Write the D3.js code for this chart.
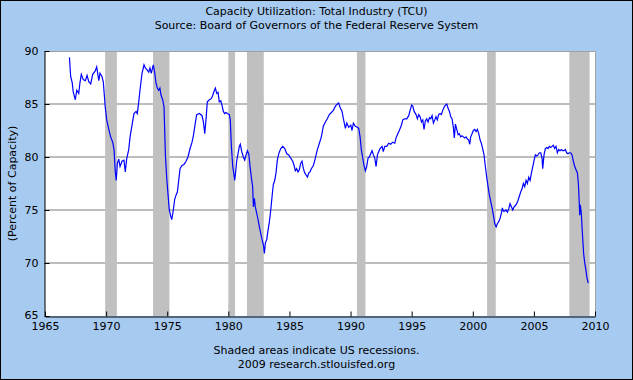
<!DOCTYPE html>
<html><head><meta charset="utf-8">
<script src="https://cdn.jsdelivr.net/npm/d3@7"></script>
<style>html,body{margin:0;padding:0;background:#fff}svg{display:block}text{font-family:"DejaVu Sans",Verdana,sans-serif}</style>
</head><body>
<script>
const dates = [1967.0,1967.1,1967.23,1967.3,1967.48,1967.6,1967.76,1967.86,1967.97,1968.13,1968.3,1968.44,1968.58,1968.74,1968.9,1969.1,1969.23,1969.4,1969.5,1969.66,1969.77,1969.93,1970.05,1970.2,1970.37,1970.54,1970.65,1970.75,1970.83,1970.92,1971.03,1971.14,1971.3,1971.46,1971.57,1971.68,1971.85,1971.96,1972.12,1972.28,1972.45,1972.55,1972.67,1972.77,1972.94,1973.1,1973.21,1973.37,1973.49,1973.59,1973.7,1973.86,1973.97,1974.08,1974.19,1974.3,1974.4,1974.5,1974.63,1974.74,1974.85,1974.96,1975.07,1975.17,1975.29,1975.37,1975.5,1975.61,1975.72,1975.83,1975.94,1976.05,1976.2,1976.37,1976.54,1976.7,1976.87,1977.03,1977.14,1977.27,1977.41,1977.63,1977.85,1977.96,1978.07,1978.17,1978.28,1978.45,1978.6,1978.72,1978.83,1978.94,1979.05,1979.16,1979.26,1979.38,1979.48,1979.59,1979.7,1979.81,1979.92,1980.08,1980.16,1980.25,1980.36,1980.44,1980.52,1980.6,1980.68,1980.79,1980.9,1980.98,1981.1,1981.23,1981.34,1981.45,1981.56,1981.67,1981.78,1981.88,1981.99,1982.05,1982.13,1982.21,1982.32,1982.43,1982.54,1982.65,1982.76,1982.87,1982.95,1983.03,1983.14,1983.25,1983.36,1983.47,1983.58,1983.68,1983.8,1983.9,1984.01,1984.12,1984.29,1984.45,1984.62,1984.78,1984.94,1985.1,1985.27,1985.38,1985.48,1985.59,1985.7,1985.81,1985.92,1986.03,1986.14,1986.25,1986.36,1986.47,1986.58,1986.68,1986.79,1986.96,1987.12,1987.28,1987.45,1987.61,1987.77,1987.94,1988.1,1988.26,1988.43,1988.59,1988.76,1988.92,1989.03,1989.14,1989.3,1989.47,1989.58,1989.69,1989.85,1990.02,1990.12,1990.23,1990.39,1990.56,1990.67,1990.78,1990.88,1991.0,1991.1,1991.21,1991.32,1991.43,1991.54,1991.65,1991.76,1991.87,1991.98,1992.09,1992.2,1992.3,1992.41,1992.58,1992.68,1992.8,1992.96,1993.12,1993.29,1993.45,1993.62,1993.72,1993.83,1993.99,1994.16,1994.27,1994.43,1994.6,1994.76,1994.87,1995.0,1995.09,1995.2,1995.36,1995.47,1995.58,1995.69,1995.8,1995.91,1996.01,1996.12,1996.23,1996.34,1996.45,1996.56,1996.67,1996.78,1996.89,1996.99,1997.1,1997.21,1997.32,1997.43,1997.54,1997.65,1997.76,1997.87,1997.98,1998.09,1998.2,1998.31,1998.42,1998.49,1998.58,1998.69,1998.8,1998.9,1999.01,1999.12,1999.23,1999.34,1999.45,1999.56,1999.67,1999.75,1999.83,1999.94,2000.05,2000.16,2000.27,2000.38,2000.49,2000.6,2000.7,2000.81,2000.92,2001.03,2001.14,2001.25,2001.36,2001.47,2001.58,2001.69,2001.8,2001.91,2002.01,2002.12,2002.23,2002.34,2002.42,2002.5,2002.61,2002.72,2002.83,2002.94,2003.05,2003.16,2003.27,2003.38,2003.48,2003.59,2003.7,2003.81,2003.92,2004.03,2004.14,2004.25,2004.36,2004.47,2004.58,2004.69,2004.8,2004.91,2005.02,2005.12,2005.23,2005.34,2005.45,2005.56,2005.67,2005.72,2005.83,2005.94,2006.05,2006.16,2006.27,2006.38,2006.49,2006.59,2006.7,2006.81,2006.92,2007.03,2007.14,2007.25,2007.36,2007.46,2007.57,2007.68,2007.79,2007.9,2008.01,2008.12,2008.23,2008.34,2008.45,2008.56,2008.64,2008.7,2008.75,2008.8,2008.88,2008.94,2009.0,2009.07,2009.15,2009.26,2009.34,2009.45];
const tcu = [89.4,87.6,87.0,86.2,85.4,86.3,86.0,87.0,87.8,87.3,87.2,87.7,87.1,86.9,87.8,88.1,88.5,87.2,87.9,87.6,87.1,84.7,83.5,82.7,81.9,81.4,80.7,78.6,77.8,79.4,79.8,79.1,79.6,79.7,78.6,79.8,80.7,81.9,83.0,84.1,84.3,84.1,85.2,86.3,87.9,88.7,88.4,88.2,88.0,88.4,87.9,88.7,88.0,87.0,86.5,86.3,86.5,85.8,85.4,84.7,80.2,78.0,76.4,75.0,74.4,74.1,75.0,76.0,76.4,76.7,77.8,78.9,79.2,79.3,79.6,80.0,80.8,81.4,82.0,83.0,84.0,84.1,83.9,83.3,82.2,83.5,85.2,85.4,85.5,85.8,86.2,86.5,86.0,86.1,85.2,85.3,84.9,84.3,84.1,84.2,84.1,84.0,83.5,81.0,79.1,78.5,77.8,78.6,79.6,80.3,81.0,81.2,80.5,80.0,79.7,80.2,80.6,80.3,79.1,78.1,77.2,75.3,76.1,75.3,74.7,74.1,73.4,72.8,72.2,71.7,70.9,71.9,72.2,73.1,73.9,75.0,76.3,77.4,77.8,78.5,79.7,80.3,80.8,81.0,80.8,80.3,80.2,79.9,79.6,79.2,78.7,78.9,78.6,78.8,79.4,79.6,78.9,78.5,78.3,78.1,78.5,78.6,78.9,79.2,79.9,80.7,81.3,81.9,82.9,83.3,83.6,84.0,84.2,84.4,84.8,85.0,85.1,84.7,84.3,83.3,82.7,83.2,82.8,83.0,82.5,83.2,82.9,82.8,82.7,81.9,80.7,79.9,79.2,78.7,79.1,79.9,80.0,80.3,80.6,80.2,79.9,79.1,80.2,80.5,80.8,81.0,80.5,81.0,81.0,81.3,81.2,81.4,81.3,81.8,82.1,82.5,83.0,83.5,83.6,83.6,83.9,84.4,84.9,84.8,84.3,84.0,83.6,84.0,83.8,83.3,83.5,82.6,83.4,83.6,83.3,83.7,83.6,83.9,83.2,83.5,83.8,83.5,84.0,84.1,84.0,84.4,84.7,84.9,85.0,84.6,84.3,83.8,83.6,82.7,81.8,83.1,82.6,82.1,82.2,81.9,82.0,81.9,81.8,81.9,81.7,81.6,81.2,81.9,82.2,82.5,82.6,82.4,82.6,82.2,81.6,81.3,80.8,80.2,79.1,78.1,77.2,76.4,75.8,75.2,74.5,73.7,73.4,73.7,73.9,74.2,74.7,75.2,74.9,74.9,75.0,74.8,75.1,75.6,75.3,75.0,75.3,75.4,75.6,75.9,76.3,76.7,77.0,77.5,77.2,77.8,77.5,78.1,77.8,78.5,79.1,79.7,80.2,80.1,80.2,80.4,80.4,79.9,78.9,80.2,80.8,80.9,80.8,81.0,80.9,81.0,81.1,80.8,81.0,80.4,80.7,80.6,80.7,80.6,80.6,80.7,80.4,80.3,80.4,80.4,80.2,79.6,79.1,78.8,78.5,77.5,76.0,74.5,75.5,74.7,73.4,72.2,70.9,70.1,69.3,68.6,68.1];
const recessionStart = [1969.92, 1973.84, 1980.0, 1981.52, 1990.52, 2001.17, 2007.9];
const recessionEnd   = [1970.88, 1975.18, 1980.55, 1982.9, 1991.22, 2001.88, 2009.56];
const xTicks = [1965,1970,1975,1980,1985,1990,1995,2000,2005,2010];
const yTicks = [65,70,75,80,85,90];
const titleLines = ["Capacity Utilization: Total Industry (TCU)", "Source: Board of Governors of the Federal Reserve System"];
const footLines = ["Shaded areas indicate US recessions.", "2009 research.stlouisfed.org"];
const yLabel = "(Percent of Capacity)";

const W = 633, H = 380;
const m = {left:45, right:38, top:51, bottom:64};
const svg = d3.select("body").append("svg").attr("width", W).attr("height", H);
svg.append("rect").attr("x",0.5).attr("y",0.5).attr("width",W-1).attr("height",H-1)
  .attr("fill","#A6CAF0").attr("stroke","#000").attr("stroke-width",1);

const x = d3.scaleLinear().domain([1965,2010]).range([m.left, W-m.right]);
const y = d3.scaleLinear().domain([65,90]).range([H-m.bottom, m.top]);

svg.append("rect").attr("x",x(1965)).attr("y",y(90)).attr("width",x(2010)-x(1965)).attr("height",y(65)-y(90))
  .attr("fill","#fff");

// gridlines
svg.append("g").selectAll("line").data(yTicks.filter(d=>d>65&&d<90)).join("line")
  .attr("x1",x(1965)).attr("x2",x(2010)).attr("y1",d=>y(d)).attr("y2",d=>y(d))
  .attr("stroke","#BDBDBD").attr("stroke-width",2);

// recession bands
svg.append("g").selectAll("rect").data(recessionStart).join("rect")
  .attr("x",(d)=>x(d)).attr("width",(d,i)=>x(recessionEnd[i])-x(d))
  .attr("y",y(90)).attr("height",y(65)-y(90)).attr("fill","#C0C0C0");

// frame top/right
svg.append("path").attr("d",`M${x(1965)},${y(90)+0.5}H${x(2010)+0.5}V${y(65)}`)
  .attr("fill","none").attr("stroke","#A0A0A0").attr("stroke-width",1);

// line
const pts = dates.map((d,i)=>[d,tcu[i]]);
svg.append("path").datum(pts)
  .attr("d", d3.line().x(d=>x(d[0])).y(d=>y(d[1])))
  .attr("fill","none").attr("stroke","#0000FF").attr("stroke-width",1.2);

// axes
const xAxis = d3.axisBottom(x).tickValues(xTicks).tickFormat(d3.format("d")).tickSizeInner(-5).tickSizeOuter(0).tickPadding(7);
const gx = svg.append("g").attr("transform",`translate(0,${y(65)+0.5})`).call(xAxis);
const yAxis = d3.axisLeft(y).tickValues(yTicks).tickFormat(d3.format("d")).tickSizeInner(-5).tickSizeOuter(0).tickPadding(6);
const gy = svg.append("g").attr("transform",`translate(${x(1965)-0.5},0)`).call(yAxis);
[gx,gy].forEach(g=>{
  g.selectAll("text").attr("font-family","DejaVu Sans, Verdana, sans-serif").attr("font-size",11).attr("fill","#000");
  g.selectAll("line").attr("stroke","#000");
  g.select(".domain").attr("stroke","#000");
});
gx.selectAll("text").attr("dy","0.6em");
gy.selectAll("text").filter(d=>d===65).attr("dy","0.2em");

// titles
svg.append("g").selectAll("text").data(titleLines).join("text")
  .attr("x",W/2).attr("y",(d,i)=>15+i*14).attr("text-anchor","middle")
  .attr("font-size",11).attr("fill","#000").text(d=>d);
svg.append("g").selectAll("text").data(footLines).join("text")
  .attr("x",W/2).attr("y",(d,i)=>354+i*14).attr("text-anchor","middle")
  .attr("font-size",11).attr("fill","#000").text(d=>d);
svg.append("text").attr("transform",`translate(16,${(y(65)+y(90))/2}) rotate(-90)`)
  .attr("text-anchor","middle").attr("font-size",11).attr("fill","#000").text(yLabel);
</script>
</body></html>
